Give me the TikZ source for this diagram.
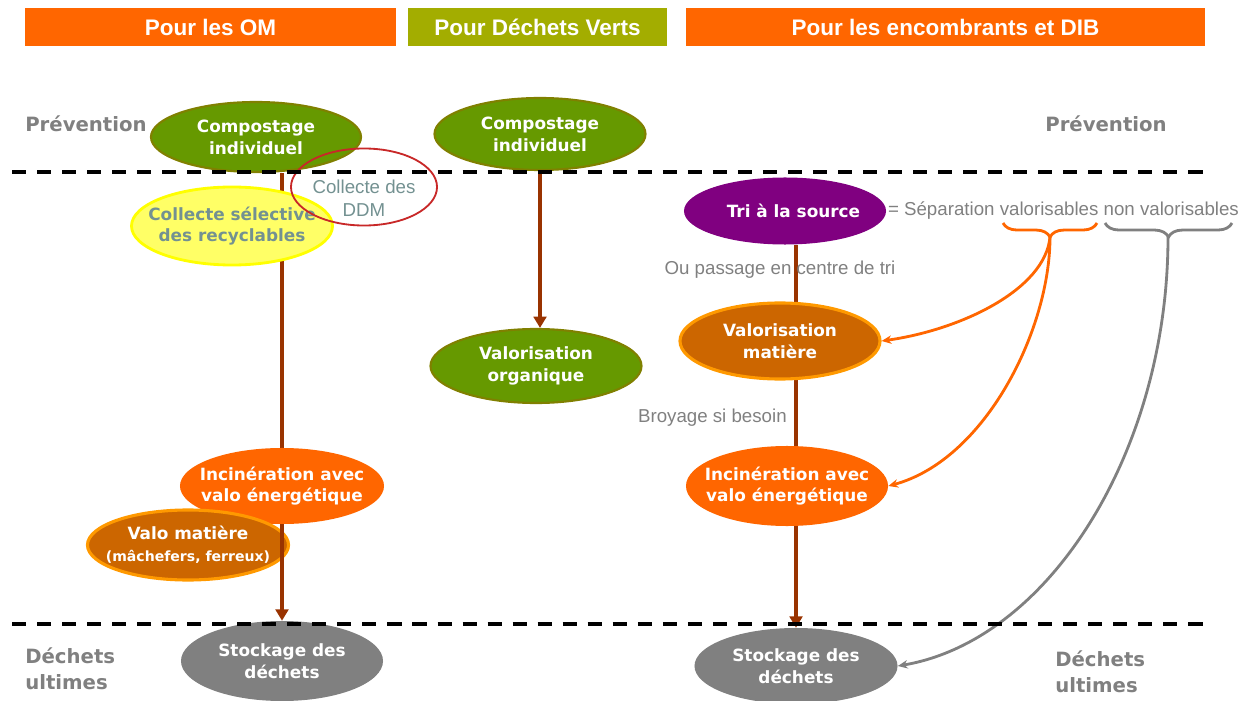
\documentclass[tikz,border=0pt]{standalone}
\usepackage{fontspec}
\usetikzlibrary{shapes.geometric, arrows.meta, positioning, decorations.pathreplacing, backgrounds}
\newfontfamily\verdfont{DejaVu Sans}
\newfontfamily\arialfont{Liberation Sans}
\definecolor{omorange}{RGB}{255,102,0}
\definecolor{dvolive}{RGB}{163,173,0}
\definecolor{vertfond}{RGB}{102,153,0}
\definecolor{vertbord}{RGB}{128,128,0}
\definecolor{jaune}{RGB}{255,255,102}
\definecolor{jauneb}{RGB}{255,255,0}
\definecolor{rouge}{RGB}{200,40,40}
\definecolor{bleugris}{RGB}{115,145,145}
\definecolor{matfond}{RGB}{204,102,0}
\definecolor{matbord}{RGB}{255,153,0}
\definecolor{gris}{RGB}{128,128,128}
\definecolor{violet}{RGB}{128,0,128}
\definecolor{brun}{RGB}{153,51,0}

\begin{document}
\begin{tikzpicture}[x=0.025cm, y=-0.025cm,
  bar/.style={rectangle, minimum height=0.95cm, inner sep=0pt, text=white, font=\arialfont\bfseries\fontsize{16}{18}\selectfont},
  bulle/.style={ellipse, inner xsep=-16pt, inner ysep=-6pt, align=center, text=white, font=\verdfont\bfseries\fontsize{12}{15.5}\selectfont},
  vert/.style={fill=vertfond, draw=vertbord, line width=1.5pt},
  matiere/.style={fill=matfond, draw=matbord, line width=2.2pt},
  niveau/.style={text=gris, align=left, inner sep=0pt, font=\verdfont\bfseries\fontsize{14}{18.5}\selectfont},
  remarque/.style={text=gris, inner sep=0pt, font=\arialfont\fontsize{13.3}{16}\selectfont},
  fleche/.style={draw=brun, line width=2.6pt},
  pointe/.style={-{Triangle[length=8pt,width=9pt]}},
  renvoi/.style={line width=2pt, -{Stealth[length=7pt,width=6pt]}},
  seuil/.style={line width=2.6pt, dash pattern=on 10pt off 7.8pt},
  accolade/.style={line width=2pt, decorate, decoration={brace, mirror, amplitude=10pt}}]

  \useasboundingbox (0,0) rectangle (1241,701);

  \node[bar, fill=omorange, minimum width=9.275cm] (hOM) at (210.5,27) {Pour les OM};
  \node[bar, fill=dvolive, minimum width=6.475cm] (hDV) at (537.5,27) {Pour Déchets Verts};
  \node[bar, fill=omorange, minimum width=12.975cm] (hDIB) at (945.5,27) {Pour les encombrants et DIB};

  \node[niveau] (prevG) at (86,124) {Prévention};
  \node[niveau] (prevD) at (1106,124) {Prévention};
  \node[niveau, anchor=west] (ultG) at (25,669) {Déchets\\ultimes};
  \node[niveau, anchor=west] (ultD) at (1055,672) {Déchets\\ultimes};

  \node[bulle, vert, minimum width=5.25cm, minimum height=1.75cm] (compG) at (256,137) {Compostage\\individuel};
  \node[bulle, fill=jaune, draw=jauneb, line width=2pt, text=bleugris, minimum width=5.025cm, minimum height=1.95cm] (collSel) at (232,226) {Collecte sélective\\des recyclables};
  \node[ellipse, draw=rouge, line width=1.3pt, inner sep=0pt, minimum width=3.65cm, minimum height=1.925cm] (ddm) at (364,187) {};
  \node[remarque, text=bleugris, align=center] (ddmTxt) at (364,198) {Collecte des\\DDM};
  \node[bulle, fill=omorange, minimum width=5.1cm, minimum height=1.9cm] (incG) at (282,486) {Incinération avec\\valo énergétique};
  \begin{pgfonlayer}{background}
    \draw[fleche] (incG |- compG.south) -- (incG.north);
  \end{pgfonlayer}
  \node[bulle, matiere, minimum width=5.025cm, minimum height=1.75cm] (valoG) at (188,545) {Valo matière\\{\fontsize{10}{12}\selectfont(mâchefers, ferreux)}};
  \node[bulle, fill=gris, minimum width=5.05cm, minimum height=2cm] (stockG) at (282,661) {Stockage des\\déchets};
  \draw[fleche, pointe] (incG.south) -- (stockG.north);

  \node[bulle, vert, minimum width=5.275cm, minimum height=1.8cm] (compM) at (540,134) {Compostage\\individuel};
  \node[bulle, vert, minimum width=5.275cm, minimum height=1.85cm] (valoOrg) at (536,366) {Valorisation\\organique};
  \draw[fleche, pointe] (compM.south) -- (compM.south |- valoOrg.north);

  \node[bulle, fill=violet, minimum width=5.05cm, minimum height=1.675cm] (tri) at (785,211) {\hspace*{12pt}Tri à la source};
  \node[remarque, right=1pt of tri] (separ) {= Séparation valorisables non valorisables};
  \node[remarque] (passage) at (780,270) {Ou passage en centre de tri};
  \node[bulle, matiere, minimum width=5cm, minimum height=1.9cm] (valoMat) at (780,341) {Valorisation\\matière};
  \node[remarque, anchor=east] (broyage) at (787,418) {Broyage si besoin};
  \node[bulle, fill=omorange, minimum width=5.05cm, minimum height=2cm] (incD) at (787,486) {Incinération avec\\valo énergétique};
  \node[bulle, fill=gris, minimum width=5.075cm, minimum height=1.9cm] (stockD) at (796,666) {Stockage des\\déchets};
  \begin{pgfonlayer}{background}
    \draw[fleche] (stockD |- tri.south) -- (stockD |- incD.north);
  \end{pgfonlayer}
  \draw[fleche, pointe] (stockD |- incD.south) -- (stockD.north);

  \draw[accolade, draw=omorange] (1003,223) -- (1097,223);
  \draw[accolade, draw=gris] (1105,223) -- (1232,223);
  \coordinate (valTip) at (1050,237);
  \coordinate (nonTip) at (1168,237);
  \draw[renvoi, draw=omorange] (valTip) .. controls (1045,290) and (960,330) .. (valoMat.east);
  \draw[renvoi, draw=omorange] (valTip) .. controls (1050,330) and (985,460) .. (incD.east);
  \draw[renvoi, draw=gris] (nonTip) .. controls (1168,450) and (1050,640) .. (stockD.east);

  \draw[seuil] (12,172) -- (1206,172);
  \draw[seuil] (12,624) -- (1206,624);
\end{tikzpicture}
\end{document}
